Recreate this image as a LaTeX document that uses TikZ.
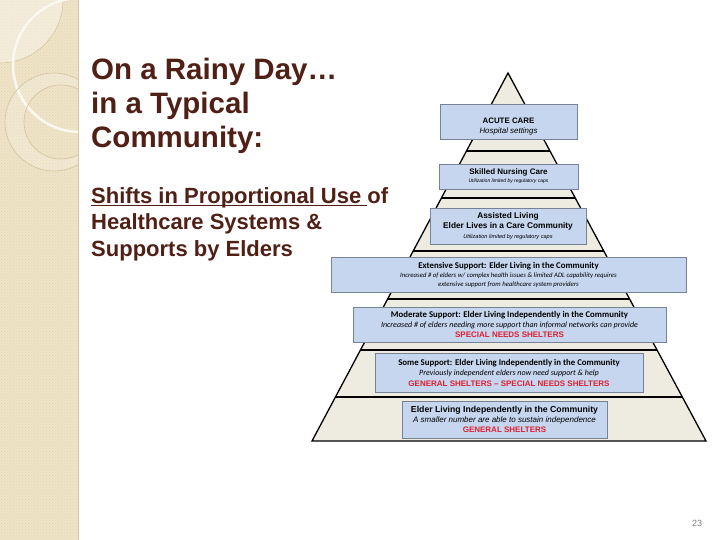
\documentclass[tikz,border=0pt]{standalone}
\usepackage{fontspec}
\setmainfont{Liberation Sans}
\newfontfamily\calibri{Carlito}
\usetikzlibrary{
calc,
patterns,
positioning
}
\tikzset{>=latex}

\definecolor{titlebrown}{RGB}{80,32,22}
\definecolor{stripbeige}{RGB}{240,228,200}
\definecolor{stripdots}{RGB}{226,212,180}
\definecolor{stripring}{RGB}{214,198,162}
\definecolor{pyramidfill}{RGB}{238,235,225}
\definecolor{boxfill}{RGB}{197,214,238}
\definecolor{boxline}{RGB}{120,130,150}
\definecolor{shelterred}{RGB}{222,32,48}

\newcommand{\fsize}[2]{\fontsize{#1}{#2}\selectfont}
\newcommand{\redcaps}[1]{\textcolor{shelterred}{\bfseries #1}}
\newcommand{\ruledtext}[1]{\setbox0\hbox{#1}\rlap{\rule[-2.6pt]{\wd0}{1.4pt}}\box0}

\begin{document}
\begin{tikzpicture}[x=1pt, y=-1pt, every node/.style={inner sep=0pt},
	tier/.style={draw=boxline, fill=boxfill, line width=0.7pt, align=center},
	headline/.style={anchor=base west, text=titlebrown, font=\fsize{29.5}{34}\bfseries},
	subline/.style={anchor=base west, text=titlebrown, font=\fsize{22}{26}\bfseries}]
	\useasboundingbox (0,0) rectangle (720,540);
	
	% left strip
	\fill[stripbeige] (0,0) rectangle (78,540);
	\fill[pattern=crosshatch dots, pattern color=stripdots] (0,0) rectangle (78,540);
	\begin{scope}
		\clip (0,0) rectangle (78,540);
		\filldraw[fill=white, fill opacity=0.35, draw=stripring, line width=0.6pt] (0,0) circle (63pt);
		\draw[white!75!stripbeige, line width=2.5pt] (80,65) circle (67pt);
		\fill[white, opacity=0.18, even odd rule] (54,122) circle (49pt) (61,122) circle (37pt);
		\draw[stripring, line width=0.7pt] (54,122) circle (49pt);
		\draw[stripring, line width=0.7pt] (61,122) circle (37pt);
	\end{scope}
	\draw[stripring, line width=0.8pt] (78,0) -- (78,540);
	
	% title
	\node[headline] (titleone)   at (91,80)  {On a Rainy Day…};
	\node[headline] (titletwo)   at (91,114) {in a Typical};
	\node[headline] (titlethree) at (91,147.5) {Community:};
	
	\node[subline] (subone)   at (91,203.5) {\ruledtext{Shifts in Proportional Use\ }of};
	\node[subline] (subtwo)   at (91,229.5) {Healthcare Systems \&};
	\node[subline] (subthree) at (91,256) {Supports by Elders};
	
	% pyramid
	\coordinate (apex)      at (508,73);
	\coordinate (baseleft)  at (312,441);
	\coordinate (baseright) at (706,441);
	\filldraw[fill=pyramidfill, draw=black, line width=1.3pt] (apex) -- (baseright) -- (baseleft) -- cycle;
	\foreach \t in {0.212,0.340,0.484,0.614,0.753,0.880}
		\draw[line width=1.8pt] ($(apex)!\t!(baseleft)$) -- ($(apex)!\t!(baseright)$);
	
	% tiers
	\node[tier, minimum width=137pt, minimum height=35pt, font=\fsize{7.9}{10}] (acutecare) at (508.5,121.5)
		{{\rule{0pt}{15.5pt}\bfseries ACUTE CARE}\\{\itshape Hospital settings}};
	\node[tier, minimum width=139pt, minimum height=25pt, font=\fsize{8}{8}] (skillednursing) at (508.5,176.5)
		{{\bfseries Skilled Nursing Care}\\{\fsize{5}{7}\itshape Utilization limited by regulatory caps}};
	\node[tier, minimum width=156pt, minimum height=36pt, font=\fsize{8.3}{10}] (assistedliving) at (508,226)
		{{\bfseries Assisted Living}\\{\bfseries Elder Lives in a Care Community}\\{\fsize{5.6}{8}\itshape Utilization limited by regulatory caps}};
	\node[tier, minimum width=355pt, minimum height=35pt, font=\calibri\fsize{6.75}{9}] (extensive) at (508.5,274.5)
		{{\fsize{8.8}{10}\bfseries Extensive Support: Elder Living in the Community}\\{\itshape Increased \# of elders w/ complex health issues \& limited ADL capability requires}\\{\itshape extensive support from healthcare system providers}};
	\node[tier, minimum width=313pt, minimum height=35pt, font=\calibri\fsize{8}{10}] (moderate) at (509.5,324.5)
		{{\fsize{8.8}{10}\bfseries Moderate Support: Elder Living Independently in the Community}\\{\itshape Increased \# of elders needing more support than informal networks can provide}\\{\normalfont\fsize{8}{10}\redcaps{SPECIAL NEEDS SHELTERS}}};
	\node[tier, minimum width=268pt, minimum height=39pt, font=\calibri\fsize{8}{10.5}] (somesupport) at (509,372.5)
		{{\fsize{8.8}{10.5}\bfseries Some Support: Elder Living Independently in the Community}\\{\itshape Previously independent elders now need support \& help}\\{\normalfont\fsize{8}{10}\redcaps{GENERAL SHELTERS -- SPECIAL NEEDS SHELTERS}}};
	\node[tier, minimum width=205pt, minimum height=37pt, font=\fsize{8}{10}] (independent) at (504.5,419.5)
		{{\fsize{8.7}{10}\bfseries Elder Living Independently in the Community}\\{\itshape A smaller number are able to sustain independence}\\{\redcaps{GENERAL SHELTERS}}};
	
	% page number
	\node[font=\fsize{9}{10}, text=gray] (pagenum) at (697,523) {23};
\end{tikzpicture}
\end{document}
